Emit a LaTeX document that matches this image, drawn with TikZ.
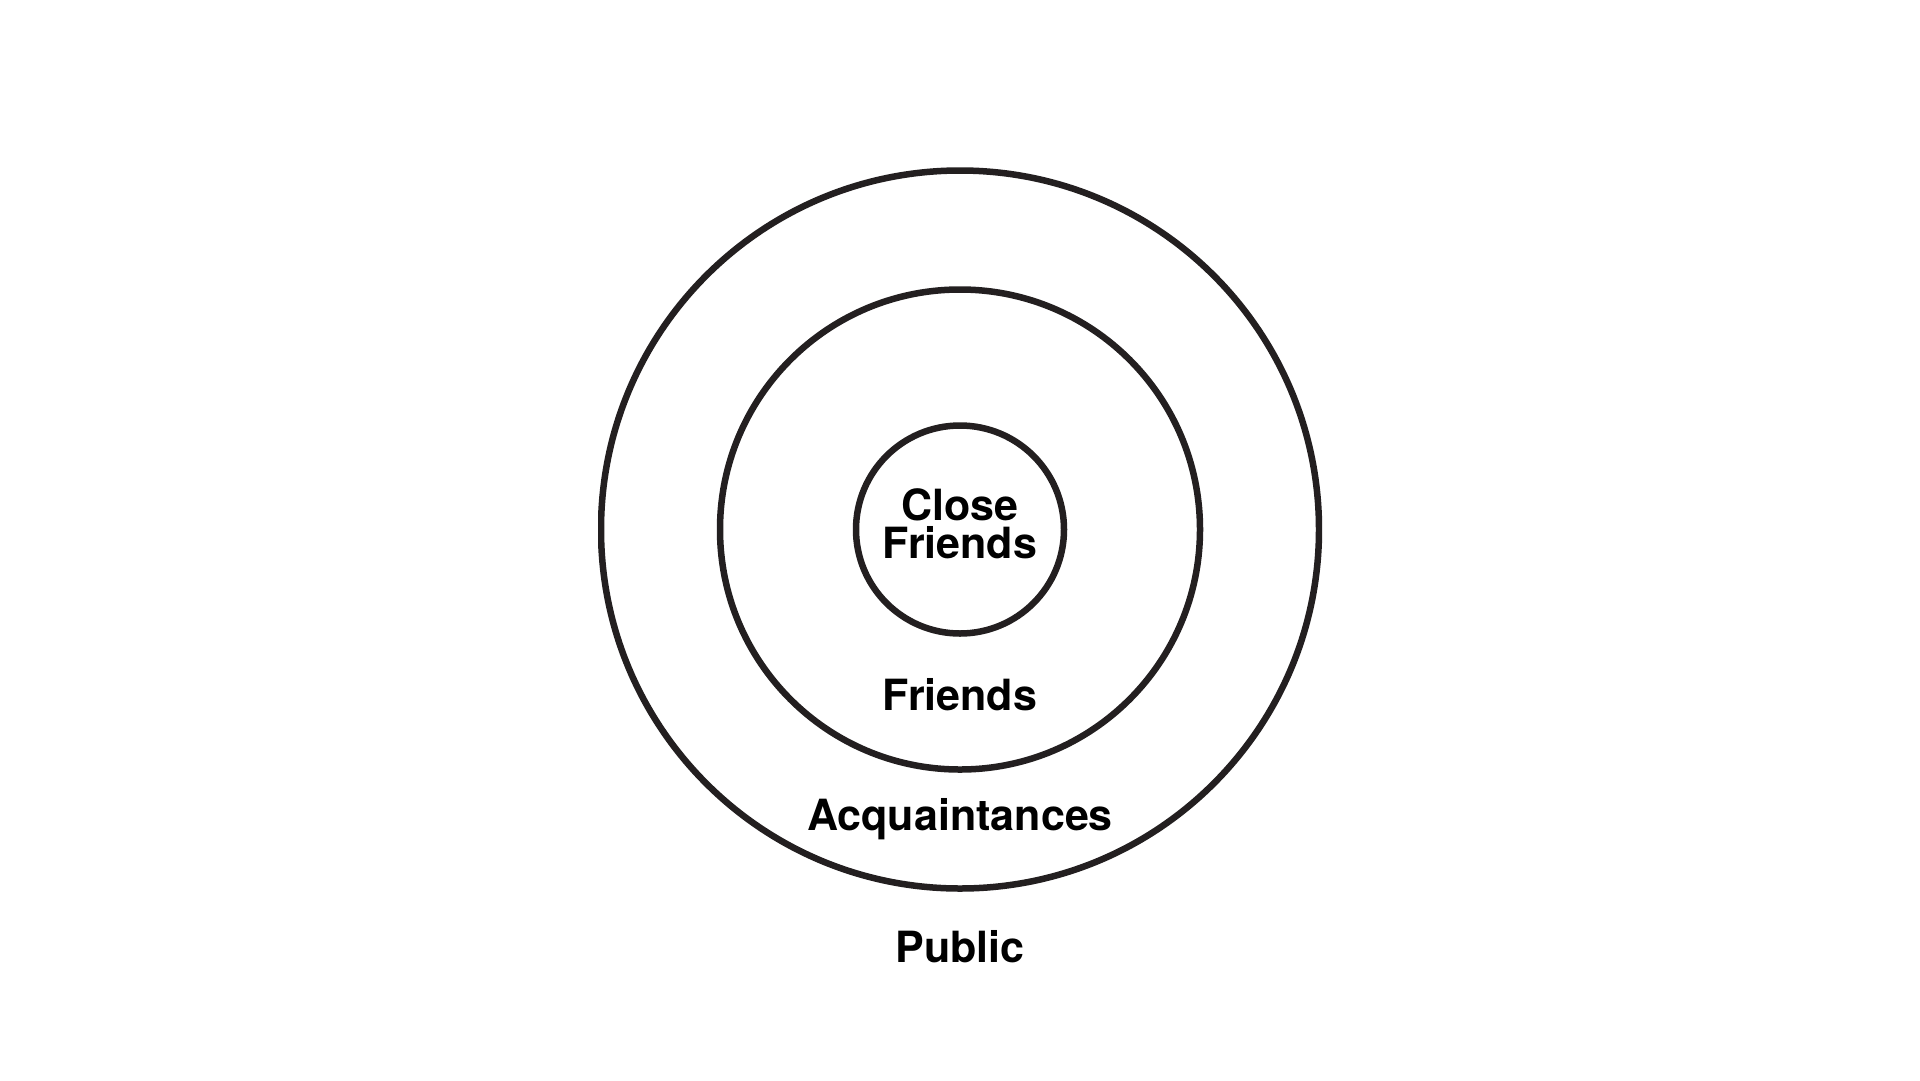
\documentclass[tikz,border=0pt]{standalone}
\usepackage{fontspec}
\setmainfont{TeX Gyre Heros}
\definecolor{ringcol}{HTML}{231F20}
\tikzset{
  ring/.style={draw=ringcol, line width=6.5pt},
  lbl/.style={font=\fontsize{43}{38}\selectfont\bfseries, text=black, inner sep=0pt, anchor=base, align=center},
}
\begin{document}
\begin{tikzpicture}[x=1pt,y=-1pt]
\useasboundingbox[fill=white] (0,0) rectangle (1920,1080);
\coordinate (c) at (960,529.5);
\begin{scope}
  \clip (598,167) rectangle (1322,891);
  \draw[ring] (c) circle (359);
\end{scope}
\draw[ring] (c) circle (240);
\draw[ring] (c) circle (104);
\node[lbl] (close) at (960,558) {Close\\Friends};
\node[lbl] (friends) at (960,710) {Friends};
\node[lbl] (acq) at (960,830) {Acquaintances};
\node[lbl] (public) at (960,962) {Public};
\end{tikzpicture}
\end{document}
